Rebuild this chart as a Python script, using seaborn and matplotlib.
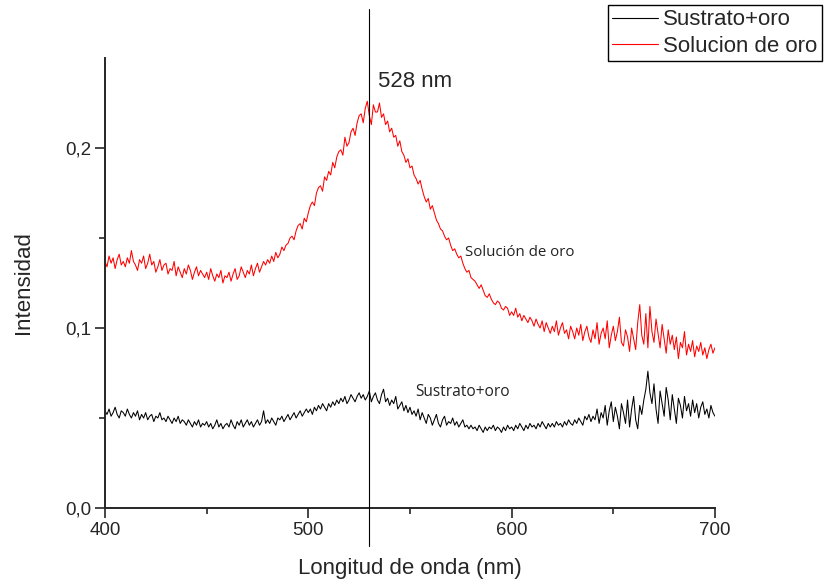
import numpy as np
import pandas as pd
import matplotlib
matplotlib.use("Agg")
import matplotlib.pyplot as plt
import seaborn as sns
from matplotlib.lines import Line2D

# wavelength grid, 1 nm steps from 400 to 700 nm
wavelength = list(range(400, 701))

solucion_oro = [
    0.137, 0.134, 0.140, 0.136, 0.139, 0.133, 0.138, 0.141, 0.135, 0.137,  # 400
    0.134, 0.139, 0.136, 0.143, 0.137, 0.135, 0.132, 0.138, 0.136, 0.140,  # 410
    0.133, 0.136, 0.141, 0.135, 0.137, 0.131, 0.134, 0.138, 0.132, 0.135,  # 420
    0.136, 0.130, 0.133, 0.132, 0.137, 0.129, 0.134, 0.131, 0.128, 0.133,  # 430
    0.130, 0.135, 0.132, 0.127, 0.131, 0.134, 0.129, 0.132, 0.130, 0.128,  # 440
    0.131, 0.127, 0.133, 0.129, 0.126, 0.130, 0.128, 0.132, 0.125, 0.129,  # 450
    0.128, 0.131, 0.126, 0.130, 0.133, 0.127, 0.129, 0.134, 0.131, 0.128,  # 460
    0.132, 0.130, 0.135, 0.129, 0.133, 0.136, 0.131, 0.134, 0.137, 0.135,  # 470
    0.138, 0.136, 0.140, 0.137, 0.142, 0.139, 0.141, 0.145, 0.143, 0.146,  # 480
    0.147, 0.150, 0.151, 0.149, 0.154, 0.157, 0.158, 0.155, 0.161, 0.159,  # 490
    0.164, 0.168, 0.170, 0.168, 0.175, 0.178, 0.179, 0.176, 0.184, 0.182,  # 500
    0.187, 0.185, 0.192, 0.189, 0.195, 0.198, 0.199, 0.196, 0.206, 0.201,  # 510
    0.203, 0.209, 0.211, 0.207, 0.214, 0.218, 0.219, 0.214, 0.222, 0.226,  # 520
    0.218, 0.213, 0.224, 0.220, 0.220, 0.225, 0.217, 0.219, 0.213, 0.215,  # 530
    0.209, 0.211, 0.206, 0.207, 0.201, 0.204, 0.198, 0.196, 0.192, 0.194,  # 540
    0.189, 0.190, 0.185, 0.183, 0.180, 0.182, 0.177, 0.173, 0.170, 0.172,  # 550
    0.166, 0.168, 0.164, 0.160, 0.158, 0.155, 0.154, 0.151, 0.149, 0.150,  # 560
    0.146, 0.143, 0.144, 0.141, 0.139, 0.140, 0.136, 0.133, 0.131, 0.132,  # 570
    0.128, 0.127, 0.126, 0.124, 0.122, 0.124, 0.121, 0.118, 0.117, 0.119,  # 580
    0.116, 0.114, 0.113, 0.115, 0.114, 0.111, 0.110, 0.112, 0.111, 0.107,  # 590
    0.109, 0.107, 0.111, 0.106, 0.108, 0.104, 0.107, 0.105, 0.103, 0.106,  # 600
    0.104, 0.101, 0.105, 0.102, 0.100, 0.104, 0.098, 0.103, 0.100, 0.097,  # 610
    0.101, 0.098, 0.104, 0.096, 0.100, 0.103, 0.097, 0.099, 0.094, 0.101,  # 620
    0.098, 0.094, 0.100, 0.096, 0.102, 0.093, 0.098, 0.101, 0.095, 0.092,  # 630
    0.099, 0.094, 0.103, 0.091, 0.097, 0.100, 0.094, 0.104, 0.089, 0.096,  # 640
    0.101, 0.093, 0.098, 0.106, 0.092, 0.090, 0.099, 0.095, 0.087, 0.100,  # 650
    0.094, 0.088, 0.103, 0.113, 0.096, 0.091, 0.108, 0.089, 0.112, 0.098,  # 660
    0.092, 0.105, 0.097, 0.089, 0.102, 0.094, 0.086, 0.099, 0.091, 0.096,  # 670
    0.088, 0.095, 0.083, 0.092, 0.089, 0.098, 0.085, 0.091, 0.087, 0.093,  # 680
    0.084, 0.090, 0.087, 0.092, 0.085, 0.089, 0.083, 0.088, 0.091, 0.086,  # 690
    0.089,                                                                  # 700
]

sustrato_oro = [
    0.054, 0.052, 0.055, 0.051, 0.053, 0.056, 0.052, 0.050, 0.054, 0.053,  # 400
    0.051, 0.055, 0.052, 0.050, 0.053, 0.051, 0.054, 0.049, 0.052, 0.050,  # 410
    0.053, 0.049, 0.051, 0.052, 0.048, 0.051, 0.050, 0.053, 0.049, 0.050,  # 420
    0.048, 0.051, 0.049, 0.047, 0.050, 0.048, 0.051, 0.047, 0.049, 0.048,  # 430
    0.046, 0.049, 0.047, 0.045, 0.048, 0.046, 0.049, 0.045, 0.047, 0.046,  # 440
    0.048, 0.045, 0.047, 0.044, 0.046, 0.049, 0.045, 0.047, 0.044, 0.046,  # 450
    0.047, 0.045, 0.049, 0.046, 0.044, 0.048, 0.046, 0.049, 0.045, 0.047,  # 460
    0.049, 0.046, 0.048, 0.045, 0.047, 0.049, 0.046, 0.048, 0.054, 0.047,  # 470
    0.049, 0.047, 0.050, 0.048, 0.046, 0.050, 0.049, 0.051, 0.048, 0.050,  # 480
    0.052, 0.049, 0.051, 0.053, 0.050, 0.052, 0.054, 0.051, 0.053, 0.055,  # 490
    0.053, 0.055, 0.052, 0.056, 0.054, 0.057, 0.055, 0.058, 0.056, 0.054,  # 500
    0.058, 0.056, 0.059, 0.057, 0.060, 0.058, 0.061, 0.059, 0.062, 0.058,  # 510
    0.060, 0.063, 0.061, 0.059, 0.062, 0.064, 0.061, 0.063, 0.060, 0.062,  # 520
    0.065, 0.059, 0.062, 0.064, 0.060, 0.058, 0.063, 0.066, 0.059, 0.061,  # 530
    0.057, 0.060, 0.058, 0.062, 0.055, 0.057, 0.059, 0.054, 0.057, 0.053,  # 540
    0.056, 0.052, 0.054, 0.051, 0.055, 0.049, 0.053, 0.050, 0.047, 0.052,  # 550
    0.050, 0.046, 0.049, 0.052, 0.047, 0.045, 0.049, 0.051, 0.046, 0.048,  # 560
    0.047, 0.050, 0.046, 0.048, 0.045, 0.047, 0.049, 0.045, 0.046, 0.044,  # 570
    0.046, 0.044, 0.045, 0.043, 0.046, 0.044, 0.042, 0.045, 0.043, 0.045,  # 580
    0.044, 0.046, 0.043, 0.045, 0.044, 0.042, 0.045, 0.043, 0.046, 0.044,  # 590
    0.045, 0.043, 0.046, 0.044, 0.047, 0.045, 0.043, 0.046, 0.044, 0.047,  # 600
    0.045, 0.046, 0.044, 0.047, 0.045, 0.048, 0.046, 0.044, 0.047, 0.045,  # 610
    0.047, 0.045, 0.048, 0.046, 0.047, 0.045, 0.048, 0.046, 0.049, 0.047,  # 620
    0.046, 0.049, 0.047, 0.050, 0.048, 0.046, 0.051, 0.049, 0.052, 0.048,  # 630
    0.051, 0.049, 0.055, 0.047, 0.053, 0.050, 0.057, 0.046, 0.054, 0.059,  # 640
    0.048, 0.056, 0.051, 0.044, 0.058, 0.053, 0.047, 0.060, 0.045, 0.055,  # 650
    0.062, 0.049, 0.044, 0.057, 0.052, 0.060, 0.066, 0.076, 0.064, 0.058,  # 660
    0.069, 0.055, 0.047, 0.065, 0.058, 0.051, 0.067, 0.060, 0.049, 0.063,  # 670
    0.055, 0.047, 0.061, 0.057, 0.050, 0.062, 0.054, 0.058, 0.051, 0.060,  # 680
    0.053, 0.058, 0.050, 0.056, 0.059, 0.052, 0.055, 0.050, 0.057, 0.053,  # 690
    0.051,                                                                  # 700
]

series_names = ["Sustrato+oro", "Solucion de oro"]
x_ticks = [400, 500, 600, 700]
y_ticks = [0.0, 0.1, 0.2]
y_tick_labels = ["0,0", "0,1", "0,2"]
peak_nm = 530
peak_label = "528 nm"

df = pd.concat([
    pd.DataFrame({"wl": wavelength, "I": sustrato_oro, "serie": series_names[0]}),
    pd.DataFrame({"wl": wavelength, "I": solucion_oro, "serie": series_names[1]}),
])

sns.set_style("ticks")
plt.rcParams["font.family"] = ["Liberation Sans", "DejaVu Sans"]

fig = plt.figure(figsize=(8.24, 5.79), dpi=100)
ax = fig.add_axes([0.1274, 0.1226, 0.7403, 0.7772])

sns.lineplot(data=df, x="wl", y="I", hue="serie", hue_order=series_names,
             palette=["black", "red"], linewidth=0.75, ax=ax, legend=False,
             estimator=None, sort=False)

ax.set_xlim(400, 700)
ax.set_ylim(0, 0.25)
ax.set_xticks(x_ticks)
ax.set_xticklabels([str(t) for t in x_ticks])
ax.set_xticks([450, 550, 650], minor=True)
ax.set_yticks(y_ticks)
ax.set_yticklabels(y_tick_labels)
ax.set_yticks([0.05, 0.15], minor=True)
ax.tick_params(axis="both", which="major", length=7, width=1.2, labelsize=13.5,
               direction="out", pad=3)
ax.tick_params(axis="both", which="minor", length=4, width=1.2, direction="out")
for s in ["top", "right"]:
    ax.spines[s].set_visible(False)
for s in ["left", "bottom"]:
    ax.spines[s].set_linewidth(1.4)

ax.set_xlabel("Longitud de onda (nm)", fontsize=16, labelpad=14)
ax.set_ylabel("Intensidad", fontsize=16, labelpad=22)

# vertical marker line extending beyond the axes
ax.plot([peak_nm, peak_nm], [-0.021, 0.277], color="black", linewidth=0.8,
        clip_on=False, zorder=5)
ax.text(534.3, 0.2367, peak_label, fontsize=16, va="center", ha="left")

ax.text(577, 0.142, "Solución de oro", fontsize=10.8, va="center", ha="left",
        family=["Open Sans", "DejaVu Sans"], color="#222222")
ax.text(552.5, 0.0644, "Sustrato+oro", fontsize=11.2, va="center", ha="left",
        family=["Open Sans", "DejaVu Sans"], color="#222222")

handles = [Line2D([], [], color="black", linewidth=0.8),
           Line2D([], [], color="red", linewidth=0.8)]
leg = fig.legend(handles, series_names, loc="upper right",
                 bbox_to_anchor=(0.9976, 0.9914), fontsize=16, frameon=True,
                 fancybox=False, framealpha=1, edgecolor="black",
                 handlelength=2.05, handletextpad=0.25, borderpad=0.2,
                 labelspacing=0.25, borderaxespad=0)
leg.get_frame().set_linewidth(1.0)

fig.savefig("out.png", dpi=100)
